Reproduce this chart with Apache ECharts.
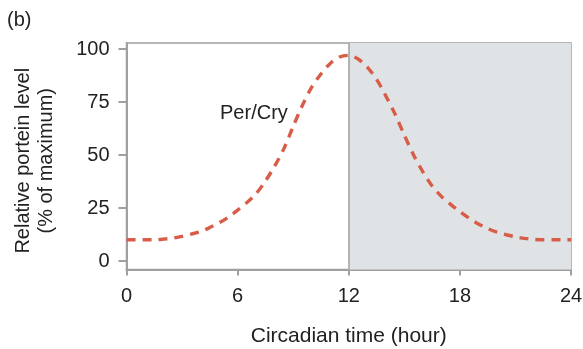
<!DOCTYPE html>
<html>
<head>
<meta charset="utf-8">
<script src="https://cdn.jsdelivr.net/npm/echarts@6/dist/echarts.min.js"></script>
<style>
html,body{margin:0;padding:0;background:#fff;}
#c{width:583px;height:349px;}
</style>
</head>
<body>
<div id="c"></div>
<script>
var hours = [0,0.5,1,1.5,2,2.5,3,3.5,4,4.5,5,5.5,6,6.5,7,7.5,8,8.5,9,9.5,10,10.5,11,11.5,12,
             12.5,13,13.5,14,14.5,15,15.5,16,16.5,17,17.5,18,18.5,19,19.5,20,20.5,21,21.5,22,22.5,23,23.5,24];
var perCry = [10,10,10,10,10.3,10.8,11.6,12.7,13.9,15.8,18,20.7,24,27.6,31.8,37.7,44.8,53,63.5,73.5,82,88.2,93.2,96.2,97,
              95.3,91.5,85.7,77.9,69.3,59.4,50,42.1,35.4,30.5,26.7,23.3,20.2,17.5,15.3,13.6,12.4,11.4,10.7,10.2,10,10,10,10];
var xTicks = [0,6,12,18,24];
var yTicks = [0,25,50,75,100];
var nightStart = 12, nightEnd = 24;
var labelPos = [6.88, 69.8];

var ff = '"Liberation Sans", Arial, sans-serif';
var chart = echarts.init(document.getElementById('c'), null, {renderer:'canvas'});
chart.setOption({
  animation:false,
  backgroundColor:'#fff',
  graphic:[{type:'text', left:7, top:10, style:{text:'(b)', font:'20px '+ff, fill:'#222'}}],
  grid:{left:126.5, right:12, top:43, bottom:79.5, containLabel:false, outerBoundsMode:'none',
        show:true, borderColor:'#a0a0a0', borderWidth:1.5, backgroundColor:'transparent'},
  xAxis:{type:'value', min:0, max:24, interval:6,
    name:'Circadian time (hour)', nameLocation:'middle', nameGap:56,
    nameTextStyle:{fontFamily:ff, fontSize:21, color:'#222'},
    axisLine:{show:true, onZero:false, lineStyle:{color:'#a0a0a0', width:2}},
    axisTick:{show:true, length:6, inside:false, lineStyle:{color:'#a0a0a0', width:2}},
    axisLabel:{margin:17, fontFamily:ff, fontSize:20, color:'#222', customValues:xTicks},
    splitLine:{show:false}},
  yAxis:{type:'value', min:-4, max:102.83,
    name:'Relative portein level\n(% of maximum)', nameLocation:'middle', nameGap:69, nameRotate:90,
    nameTextStyle:{fontFamily:ff, fontSize:20, color:'#222', lineHeight:23, align:'center', padding:[0,9,0,0]},
    axisLine:{show:true, onZero:false, lineStyle:{color:'#a0a0a0', width:2}},
    axisTick:{show:true, length:8, inside:false, customValues:yTicks, lineStyle:{color:'#a0a0a0', width:2}},
    axisLabel:{margin:17, fontFamily:ff, fontSize:20, color:'#222', customValues:yTicks},
    splitLine:{show:false}},
  series:[{
    type:'line', data:hours.map(function(h,i){return [h, perCry[i]];}),
    smooth:0.3, showSymbol:false, symbol:'none',
    lineStyle:{color:'#d85d48', width:3.4, type:[9,7], cap:'butt'},
    markArea:{silent:true, itemStyle:{color:'#dfe3e6'}, data:[[{xAxis:nightStart},{xAxis:nightEnd}]]},
    markLine:{silent:true, symbol:'none', label:{show:false}, lineStyle:{color:'#a0a0a0', width:1.5, type:'solid'}, data:[{xAxis:nightStart}]},
    markPoint:{silent:true, symbol:'circle', symbolSize:0,
      label:{show:true, position:'inside', formatter:'Per/Cry', fontFamily:ff, fontSize:20, color:'#222'},
      data:[{coord:labelPos}]},
    z:3
  }]
});
</script>
</body>
</html>
